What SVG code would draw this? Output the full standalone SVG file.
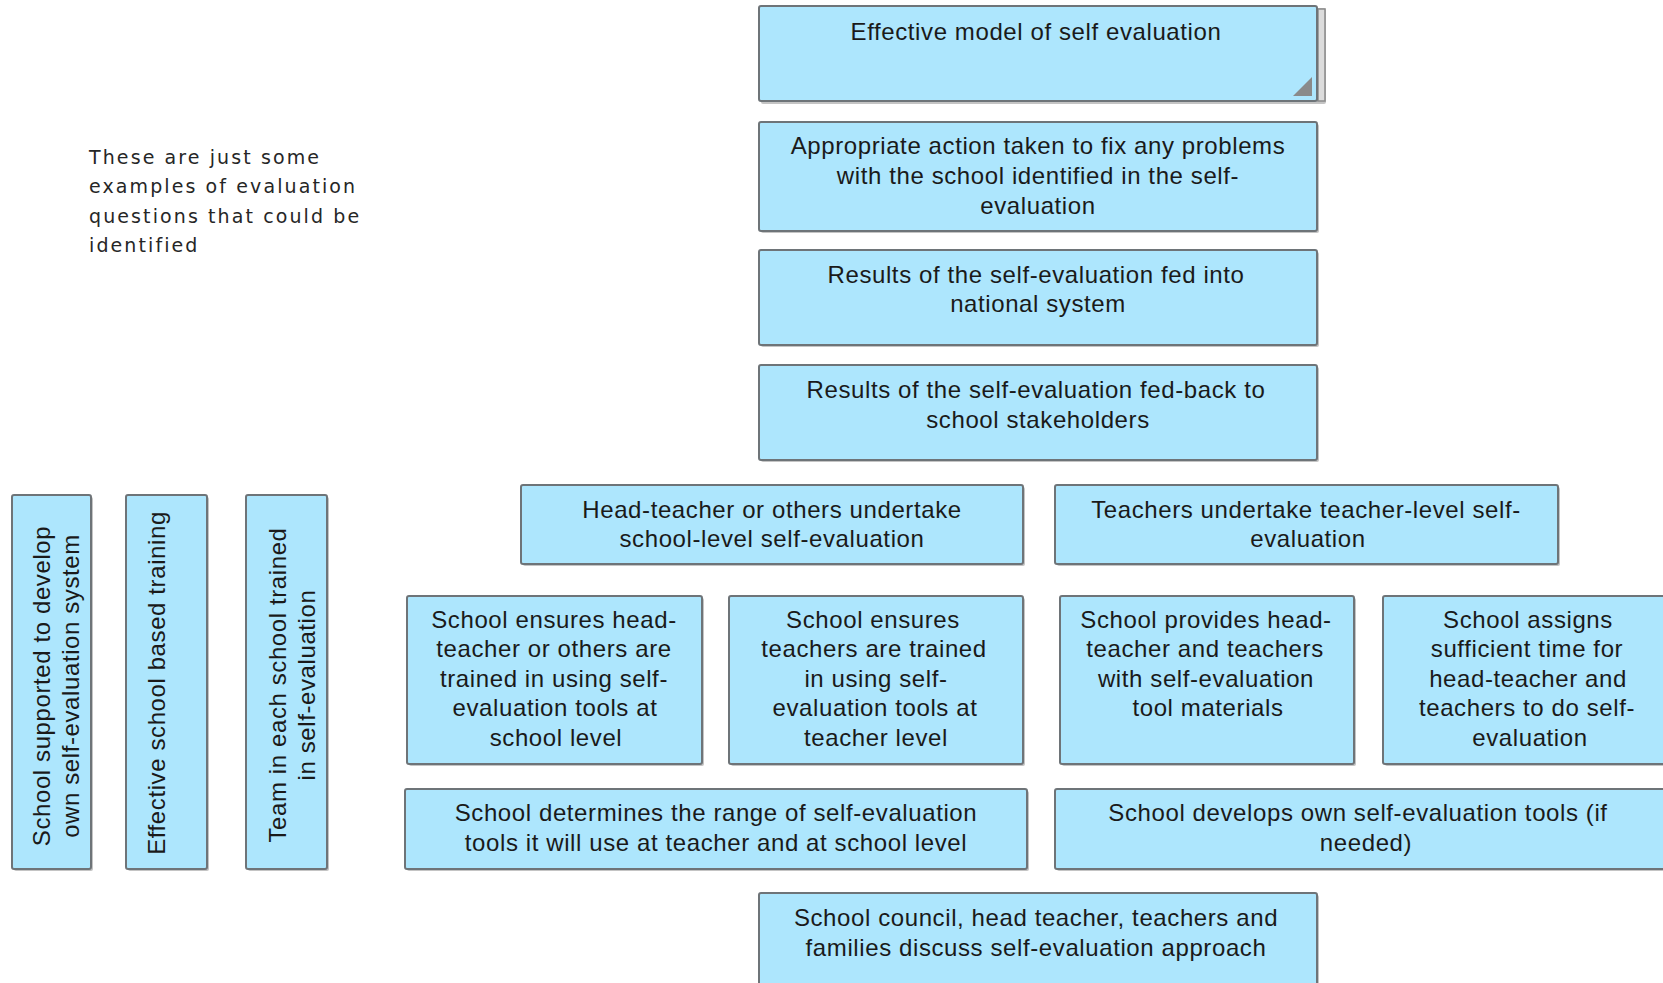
<svg xmlns="http://www.w3.org/2000/svg" width="1663" height="983" viewBox="0 0 1663 983">
<defs>
<style>
.box{fill:#ade6fd;stroke:#6e7478;stroke-width:2}
.sh{fill:#c4c4c4}
.t{font-family:"Liberation Sans",Arial,sans-serif;font-size:24px;fill:#1a1a1a;text-anchor:middle;letter-spacing:0.6px}
.note{font-family:"DejaVu Sans",sans-serif;font-size:19px;fill:#262626;letter-spacing:2.1px}
</style>
</defs>
<rect width="1663" height="983" fill="#ffffff"/>
<g id="note">
<text class="note" x="89" y="164">These are just some</text>
<text class="note" x="89" y="193">examples of evaluation</text>
<text class="note" x="89" y="223">questions that could be</text>
<text class="note" x="89" y="252">identified</text>
</g>
<g id="connectors"></g>
<g id="n1">
<rect class="sh" x="761" y="8" width="565" height="96" rx="2"/>
<rect x="1318" y="9" width="7" height="92" fill="#dcdcdc" stroke="#8a8a8a" stroke-width="1.5"/>
<rect class="box" x="759" y="6" width="558" height="95" rx="2"/>
<polygon points="1312,96 1312,77 1293,96" fill="#8a8a8a"/>
<text class="t" x="1036" y="40">Effective model of self evaluation</text>
</g>
<g id="n2">
<rect class="sh" x="761" y="124" width="558" height="109" rx="2"/>
<rect class="box" x="759" y="122" width="558" height="109" rx="2"/>
<text class="t" x="1038" y="154">Appropriate action taken to fix any problems</text>
<text class="t" x="1038" y="184">with the school identified in the self-</text>
<text class="t" x="1038" y="214">evaluation</text>
</g>
<g id="n3">
<rect class="sh" x="761" y="252" width="558" height="95" rx="2"/>
<rect class="box" x="759" y="250" width="558" height="95" rx="2"/>
<text class="t" x="1036" y="283">Results of the self-evaluation fed into</text>
<text class="t" x="1038" y="312">national system</text>
</g>
<g id="n4">
<rect class="sh" x="761" y="367" width="558" height="95" rx="2"/>
<rect class="box" x="759" y="365" width="558" height="95" rx="2"/>
<text class="t" x="1036" y="398">Results of the self-evaluation fed-back to</text>
<text class="t" x="1038" y="428">school stakeholders</text>
</g>
<g id="n5">
<rect class="sh" x="523" y="487" width="502" height="79" rx="2"/>
<rect class="box" x="521" y="485" width="502" height="79" rx="2"/>
<text class="t" x="772" y="518">Head-teacher or others undertake</text>
<text class="t" x="772" y="547">school-level self-evaluation</text>
</g>
<g id="n6">
<rect class="sh" x="1057" y="487" width="503" height="79" rx="2"/>
<rect class="box" x="1055" y="485" width="503" height="79" rx="2"/>
<text class="t" x="1306" y="518">Teachers undertake teacher-level self-</text>
<text class="t" x="1308" y="547">evaluation</text>
</g>
<g id="n7">
<rect class="sh" x="409" y="598" width="295" height="168" rx="2"/>
<rect class="box" x="407" y="596" width="295" height="168" rx="2"/>
<text class="t" x="554" y="628">School ensures head-</text>
<text class="t" x="554" y="657">teacher or others are</text>
<text class="t" x="554" y="687">trained in using self-</text>
<text class="t" x="555" y="716">evaluation tools at</text>
<text class="t" x="556" y="746">school level</text>
</g>
<g id="n8">
<rect class="sh" x="731" y="598" width="294" height="168" rx="2"/>
<rect class="box" x="729" y="596" width="294" height="168" rx="2"/>
<text class="t" x="873" y="628">School ensures</text>
<text class="t" x="874" y="657">teachers are trained</text>
<text class="t" x="876" y="687">in using self-</text>
<text class="t" x="875" y="716">evaluation tools at</text>
<text class="t" x="876" y="746">teacher level</text>
</g>
<g id="n9">
<rect class="sh" x="1062" y="598" width="294" height="168" rx="2"/>
<rect class="box" x="1060" y="596" width="294" height="168" rx="2"/>
<text class="t" x="1206" y="628">School provides head-</text>
<text class="t" x="1205" y="657">teacher and teachers</text>
<text class="t" x="1206" y="687">with self-evaluation</text>
<text class="t" x="1208" y="716">tool materials</text>
</g>
<g id="n10">
<rect class="sh" x="1385" y="598" width="290" height="168" rx="2"/>
<rect class="box" x="1383" y="596" width="290" height="168" rx="2"/>
<text class="t" x="1528" y="628">School assigns</text>
<text class="t" x="1527" y="657">sufficient time for</text>
<text class="t" x="1528" y="687">head-teacher and</text>
<text class="t" x="1527" y="716">teachers to do self-</text>
<text class="t" x="1530" y="746">evaluation</text>
</g>
<g id="n11">
<rect class="sh" x="407" y="791" width="622" height="80" rx="2"/>
<rect class="box" x="405" y="789" width="622" height="80" rx="2"/>
<text class="t" x="716" y="821">School determines the range of self-evaluation</text>
<text class="t" x="716" y="851">tools it will use at teacher and at school level</text>
</g>
<g id="n12">
<rect class="sh" x="1057" y="791" width="620" height="80" rx="2"/>
<rect class="box" x="1055" y="789" width="620" height="80" rx="2"/>
<text class="t" x="1358" y="821">School develops own self-evaluation tools (if</text>
<text class="t" x="1366" y="851">needed)</text>
</g>
<g id="n13">
<rect class="sh" x="761" y="895" width="558" height="100" rx="2"/>
<rect class="box" x="759" y="893" width="558" height="100" rx="2"/>
<text class="t" x="1036" y="926">School council, head teacher, teachers and</text>
<text class="t" x="1036" y="956">families discuss self-evaluation approach</text>
</g>
<g id="v1">
<rect class="sh" x="14" y="497" width="79" height="374" rx="2"/>
<rect class="box" x="12" y="495" width="79" height="374" rx="2"/>
<text class="t" transform="translate(50,686) rotate(-90)"><tspan x="0" y="0">School supported to develop</tspan><tspan x="0" y="29">own self-evaluation system</tspan></text>
</g>
<g id="v2">
<rect class="sh" x="128" y="497" width="81" height="374" rx="2"/>
<rect class="box" x="126" y="495" width="81" height="374" rx="2"/>
<text class="t" transform="translate(165,683) rotate(-90)">Effective school based training</text>
</g>
<g id="v3">
<rect class="sh" x="248" y="497" width="81" height="374" rx="2"/>
<rect class="box" x="246" y="495" width="81" height="374" rx="2"/>
<text class="t" transform="translate(286,685) rotate(-90)"><tspan x="0" y="0">Team in each school trained</tspan><tspan x="0" y="29">in self-evaluation</tspan></text>
</g>
</svg>
